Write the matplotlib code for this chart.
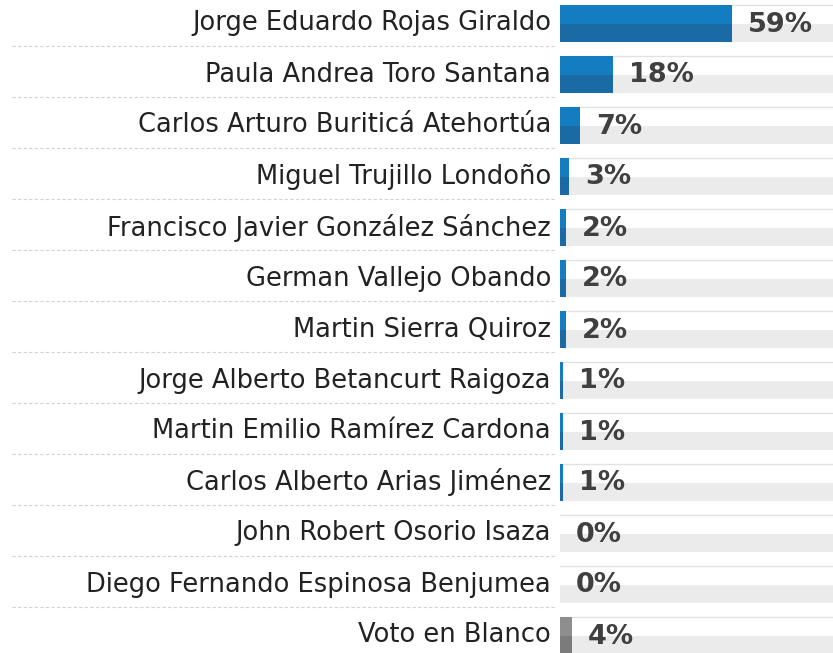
import matplotlib
matplotlib.use('agg')
import matplotlib.pyplot as plt
import matplotlib.transforms as mtransforms

names = ["Jorge Eduardo Rojas Giraldo", "Paula Andrea Toro Santana",
         "Carlos Arturo Buriticá Atehortúa", "Miguel Trujillo Londoño",
         "Francisco Javier González Sánchez", "German Vallejo Obando",
         "Martin Sierra Quiroz", "Jorge Alberto Betancurt Raigoza",
         "Martin Emilio Ramírez Cardona", "Carlos Alberto Arias Jiménez",
         "John Robert Osorio Isaza", "Diego Fernando Espinosa Benjumea",
         "Voto en Blanco"]
values = [59, 18, 7, 3, 2, 2, 2, 1, 1, 1, 0, 0, 4]
labels = ["59%", "18%", "7%", "3%", "2%", "2%", "2%", "1%", "1%", "1%", "0%", "0%", "4%"]
is_blank = [False] * 12 + [True]

W, H = 833, 653
fig = plt.figure(figsize=(W / 100, H / 100), dpi=100)
x0 = 560
ax = fig.add_axes([x0 / W, 0, (W - x0) / W, 1])
px_per_pct = 2.92
ax.set_xlim(0, (W - x0) / px_per_pct)
# y in pixel units, row pitch 51
ax.set_ylim(H, 0)
ax.axis('off')

pitch = 51
bar_h = 37
xmax = (W - x0) / px_per_pct
trans = mtransforms.blended_transform_factory(fig.transFigure, ax.transData)
for i, (v, lab, blank) in enumerate(zip(values, labels, is_blank)):
    top = 5 + pitch * i
    mid = top + bar_h / 2
    # track
    ax.barh(top + bar_h * 3 / 4, xmax, height=bar_h / 2, color="#ebebeb", zorder=1)
    ax.plot([0, xmax], [top, top], color="#e2e2e2", lw=1, zorder=1)
    c1, c2 = ("#8e8e8e", "#7b7b7b") if blank else ("#147cc0", "#1a6ba5")
    ax.barh(top + bar_h / 4, v, height=bar_h / 2, color=c1, zorder=2)
    ax.barh(top + bar_h * 3 / 4, v, height=bar_h / 2, color=c2, zorder=2)
    ax.text(v + 16 / px_per_pct, mid + 1, lab, ha='left', va='center',
            fontsize=19.5, fontweight='bold', color="#404040", zorder=3)
    # name
    fig.text(551 / W, mid, names[i], transform=trans, ha='right', va='center',
             fontsize=18.5, color="#222222")
    if i < len(names) - 1:
        fig.add_artist(plt.Line2D([12 / W, 555 / W], [top + 41, top + 41],
                                  transform=trans, color="#d2d2d2", lw=0.8,
                                  linestyle=(0, (3, 2))))

fig.savefig("out.png", dpi=100)
